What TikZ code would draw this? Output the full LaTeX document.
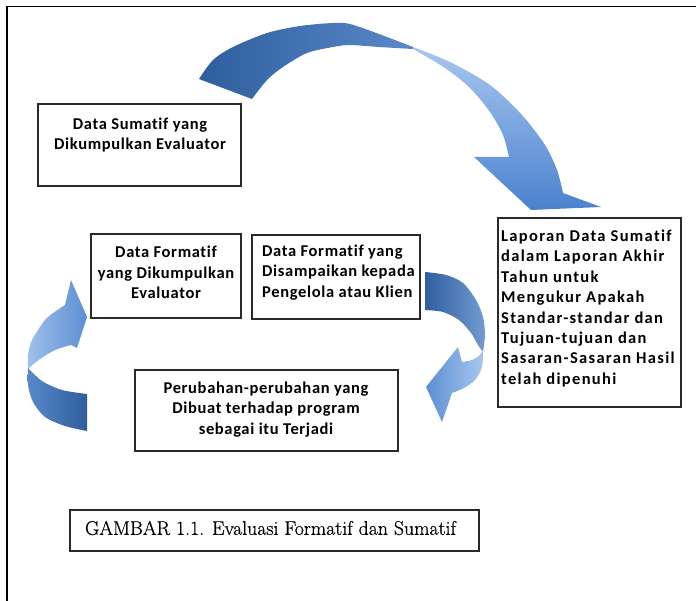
\documentclass[tikz,border=0pt]{standalone}
\usepackage{fontspec}
\newfontfamily\boxfont{Carlito}[Ligatures={NoCommon}]
\newfontfamily\capfont{Latin Modern Roman}[FakeBold=0.6]
\definecolor{edge}{HTML}{2A2A2A}
\definecolor{darkA}{HTML}{2F5E9F}
\definecolor{darkB}{HTML}{5A89C9}
\definecolor{lightA}{HTML}{A8C7EF}
\definecolor{lightB}{HTML}{4A82CE}
\begin{document}
\begin{tikzpicture}[x=1pt,y=-1pt,
  box/.style={draw=edge, line width=1.1pt, inner sep=0pt},
  boxtext/.style={inner sep=0pt,
    font=\boxfont\bfseries\fontsize{16.5}{20.4}\selectfont\addfontfeature{LetterSpace=4}},
  widetext/.style={inner sep=0pt,
    font=\boxfont\bfseries\fontsize{16.5}{20.4}\selectfont\addfontfeature{LetterSpace=8}},
  captext/.style={inner sep=0pt, font=\capfont\fontsize{19.8}{24}\selectfont},
]
\useasboundingbox (0,0) rectangle (696,601);
\fill[white] (0,0) rectangle (696,601);

% page frame (left and top rules)
\draw[line width=1.3pt] (7,601) -- (7,6.5) -- (696,6.5);

% boxes
\node[box, minimum width=203pt, minimum height=82pt]  (sumdata) at (139.5,145) {};
\node[box, minimum width=183pt, minimum height=189pt] (report)  at (589.5,312.5) {};
\node[box, minimum width=150pt, minimum height=84pt]  (fcollect) at (166,276) {};
\node[box, minimum width=168pt, minimum height=84pt]  (fdeliver) at (336,277) {};
\node[box, minimum width=263pt, minimum height=81pt]  (changes) at (266.5,410.5) {};
\node[box, minimum width=409pt, minimum height=41pt]  (caption) at (274.5,530.5) {};

% box texts
\node[boxtext, align=center] (sumtxt) at (140,135)
  {Data Sumatif yang\\Dikumpulkan Evaluator};
\node[widetext, align=left, anchor=west] (reptxt) at (501,308.5)
  {Laporan Data Sumatif\\dalam Laporan Akhir\\Tahun untuk\\Mengukur Apakah\\Standar-standar dan\\Tujuan-tujuan dan\\Sasaran-Sasaran Hasil\\telah dipenuhi};
\node[boxtext, align=center] (fcoltxt) at (166,272.5)
  {Data Formatif\\yang Dikumpulkan\\Evaluator};
\node[boxtext, align=left, anchor=west] (fdeltxt) at (262,272.5)
  {Data Formatif yang\\Disampaikan kepada\\Pengelola atau Klien};
\node[boxtext, align=center] (chgtxt) at (266,409.5)
  {Perubahan-perubahan yang\\Dibuat terhadap program\\sebagai itu Terjadi};
\node[captext] (captxt) at (270.5,528)
  {GAMBAR 1.1. Evaluasi Formatif dan Sumatif};

% top curved arrow: dark half from the tail to the twist
\shade[left color=darkA, right color=darkB]
  plot[smooth] coordinates {(199,79) (213,60) (233,47) (267,33) (300,26) (333,23) (350,24) (379,34) (413,47)}
  -- plot[smooth] coordinates {(413,49) (379,47) (350,45) (333,47) (307,53) (283,67) (267,80) (252,99)}
  -- cycle;
% top curved arrow: light half with the head
\shade[top color=lightA, bottom color=lightB]
  plot[smooth] coordinates {(413,47) (450,62) (490,85) (522,115) (545,145) (557,170) (563,193)}
  -- (601,207) -- (531,210) -- (474,157)
  -- plot[smooth] coordinates {(509,157) (503,135) (490,112) (470,88) (445,68) (413,49)}
  -- cycle;

% left curved arrow: light upper half with the head
\shade[left color=lightA!90!lightB, right color=lightB!90!white]
  plot[smooth] coordinates {(28,370) (28,355) (32,340) (45,320) (56,311) (65,305)}
  -- (71,280) -- (87,317) -- (77,348)
  -- plot[smooth] coordinates {(71,345) (55,350) (40,359) (30,367) (28,370)}
  -- cycle;
% left curved arrow: dark lower half with the tail
\shade[left color=darkB, right color=darkA]
  plot[smooth] coordinates {(28,368) (28,385) (33,402) (45,417) (65,426) (87,431)}
  -- (87,394)
  -- plot[smooth] coordinates {(87,394) (62,390) (42,381) (28,368)}
  -- cycle;

% right curved arrow: dark upper half with the tail
\shade[left color=darkA, right color=darkB!85!white]
  plot[smooth] coordinates {(425,272) (446,275) (463,283) (476,300) (483,317) (485,335) (483,352)}
  -- plot[smooth] coordinates {(483,352) (478,345) (471,333) (459,320) (443,312) (425,310)}
  -- cycle;
% right curved arrow: light lower half with the head
\shade[left color=lightB!90!white, right color=lightA]
  plot[smooth] coordinates {(483,350) (482,367) (475,380) (464,388) (452,393)}
  -- (442,422) -- (426,387) -- (458,347)
  -- plot[smooth] coordinates {(462,362) (472,360) (479,356) (483,350)}
  -- cycle;
\end{tikzpicture}
\end{document}
